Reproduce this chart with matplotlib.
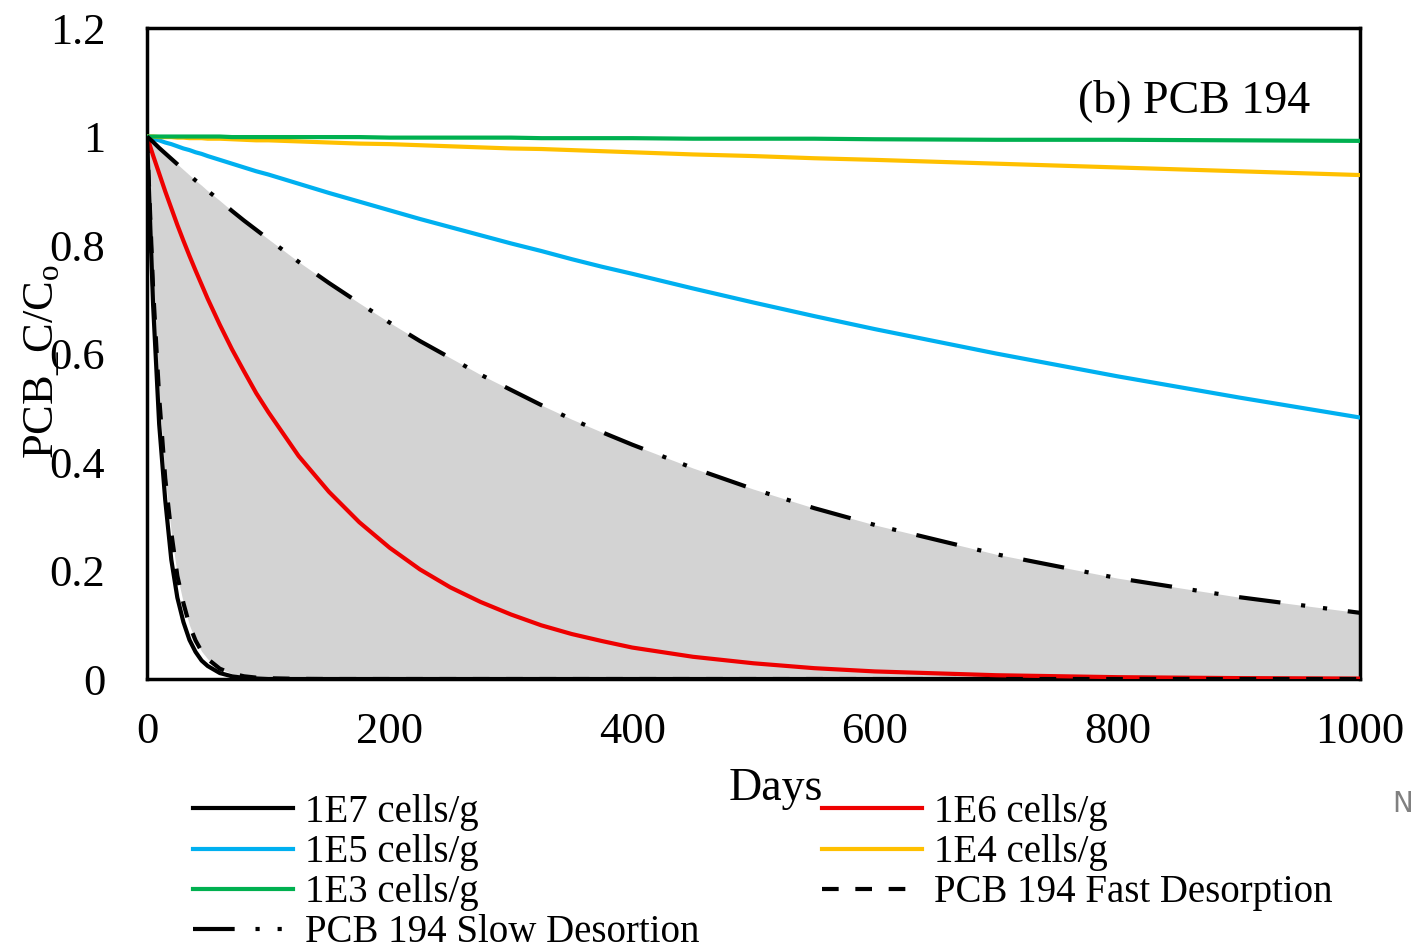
import numpy as np
import matplotlib
matplotlib.use("Agg")
import matplotlib.pyplot as plt

plt.rcParams["font.family"] = ["Liberation Serif", "DejaVu Serif"]
plt.rcParams["mathtext.fontset"] = "custom"
plt.rcParams["mathtext.rm"] = "Liberation Serif"
plt.rcParams["mathtext.default"] = "regular"

# Values (C/C0 vs days)
days = [0, 5, 10, 15, 20, 25, 30, 35, 40, 45, 50, 60, 70, 80, 90, 100,
        125, 150, 175, 200, 225, 250, 275, 300, 325, 350, 375, 400, 450,
        500, 550, 600, 700, 800, 900, 1000]
c_1e7 = [1, .69, .47, .33, .22, .15, .105, .072, .05, .034, .024, .011,
         .005, .002, .001, 0,
         0, 0, 0, 0, 0, 0, 0, 0, 0, 0, 0, 0, 0,
         0, 0, 0, 0, 0, 0, 0]
c_1e6 = [1, .965, .932, .899, .868, .837, .808, .780, .753, .727, .701,
         .653, .608, .567, .527, .492,
         .411, .345, .289, .242, .202, .169, .142, .119, .099, .083, .070,
         .058, .041, .029, .020, .014, .007, .0034, .0017, .0008]
c_1e5 = [1, .996, .993, .989, .986, .982, .978, .975, .971, .968, .964,
         .957, .950, .943, .936, .930,
         .913, .896, .880, .864, .848, .833, .818, .803, .789, .774, .760,
         .747, .720, .694, .669, .645, .600, .558, .519, .482]
c_1e4 = [1, 1, .999, .999, .999, .998, .998, .997, .997, .997, .996,
         .996, .995, .994, .993, .993,
         .991, .989, .987, .986, .984, .982, .980, .978, .977, .975, .973,
         .971, .967, .964, .960, .957, .950, .943, .936, .929]
c_1e3 = [1, 1, 1, 1, 1, 1, 1, 1, 1, 1, 1,
         1, .999, .999, .999, .999,
         .999, .999, .999, .998, .998, .998, .998, .998, .997, .997, .997,
         .997, .996, .996, .996, .995, .994, .994, .993, .992]
fast_des = [1, .72, .52, .37, .27, .19, .14, .099, .071, .051, .037,
            .019, .01, .005, .0026, .0014,
            .0003, 0, 0, 0, 0, 0, 0, 0, 0, 0, 0, 0, 0,
            0, 0, 0, 0, 0, 0, 0]
slow_des = [1, .990, .979, .969, .959, .949, .939, .929, .919, .910, .900,
            .882, .863, .845, .828, .811,
            .769, .730, .693, .657, .623, .592, .561, .533, .505, .479, .455,
            .432, .389, .350, .315, .284, .230, .186, .151, .122]

x_ticks = [0, 200, 400, 600, 800, 1000]
y_ticks = [0, 0.2, 0.4, 0.6, 0.8, 1.0, 1.2]
y_tick_labels = ["0", "0.2", "0.4", "0.6", "0.8", "1", "1.2"]

fig = plt.figure(figsize=(14.11, 9.44), dpi=100)
ax = fig.add_axes([0.1042, 0.2807, 0.8597, 0.6896])

ax.fill_between(days, fast_des, slow_des, color="#d3d3d3", lw=0, zorder=1)

lw = 3
l7, = ax.plot(days, c_1e7, color="black", lw=lw, label="1E7 cells/g", zorder=3)
l6, = ax.plot(days, c_1e6, color="#ee0000", lw=lw, label="1E6 cells/g", zorder=3)
l5, = ax.plot(days, c_1e5, color="#00b0f0", lw=lw, label="1E5 cells/g", zorder=3)
l4, = ax.plot(days, c_1e4, color="#ffc000", lw=lw, label="1E4 cells/g", zorder=3)
l3, = ax.plot(days, c_1e3, color="#00b050", lw=lw, label="1E3 cells/g", zorder=3)
lf, = ax.plot(days, fast_des, color="black", lw=lw, ls=(0, (4, 4)),
              label="PCB 194 Fast Desorption", zorder=4)
ls_, = ax.plot(days, slow_des, color="black", lw=lw,
               ls=(0, (10, 5, 1, 4.3, 1, 5)),
               label="PCB 194 Slow Desortion", zorder=4)

ax.set_xlim(0, 1000)
ax.set_ylim(0, 1.2)
ax.set_xticks(x_ticks)
ax.set_yticks(y_ticks)
ax.set_yticklabels(y_tick_labels)
ax.tick_params(axis="both", length=0, labelsize=32)
ax.tick_params(axis="y", pad=30)
ax.tick_params(axis="x", pad=24)
for sp in ax.spines.values():
    sp.set_linewidth(2.5)
    sp.set_color("black")

ax.set_ylabel("PCB_C/C$_{o}$", fontsize=32)
ax.yaxis.set_label_coords(-0.07, 0.487)

ax.text(0.959, 0.871, "(b) PCB 194", transform=ax.transAxes, fontsize=33,
        ha="right", va="baseline")

fig.text(776 / 1411, 0.1525, "Days", fontsize=33, ha="center", va="baseline")

handles = [l7, l5, l3, ls_, l6, l4, lf]
fig.legend(handles=handles, labels=[h.get_label() for h in handles],
           loc="upper left", bbox_to_anchor=(193 / 1411, 1 - 794 / 944),
           ncol=2, frameon=False, fontsize=28, borderpad=0,
           borderaxespad=0, handlelength=2.57, handletextpad=0.31,
           labelspacing=0.08, columnspacing=3.14)

fig.text(1392 / 1411, 1 - 812 / 944, "N", fontsize=20, color="#808080",
         family="DejaVu Sans", ha="left", va="baseline")

fig.savefig("out.png", dpi=100)
